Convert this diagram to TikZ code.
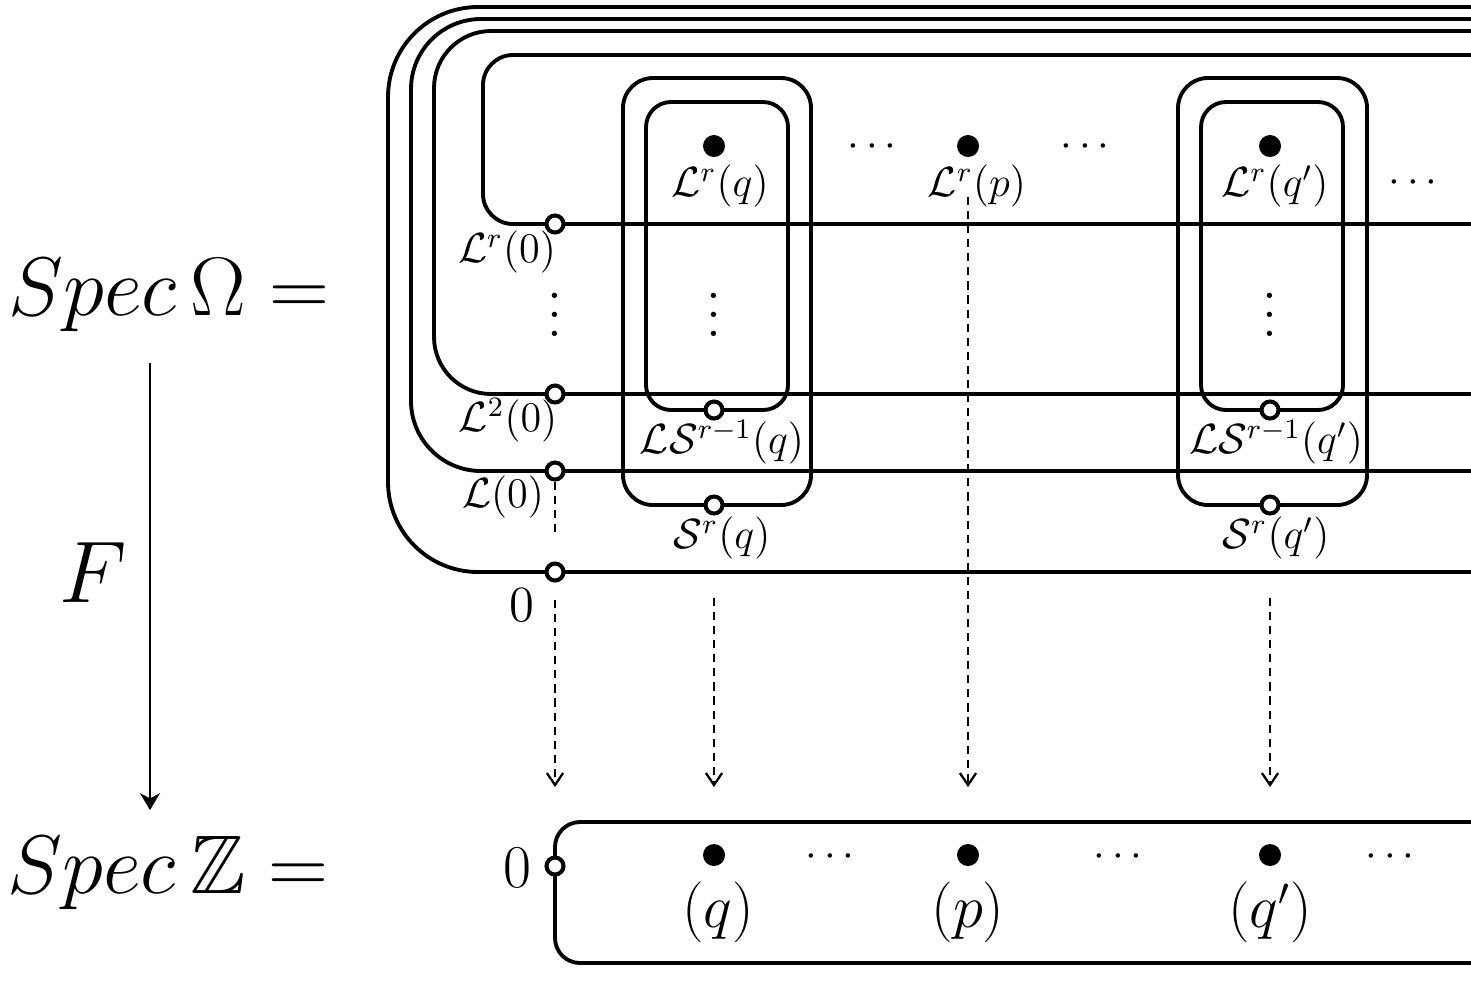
\documentclass[tikz,border=0pt]{standalone}
\usepackage{amssymb}
\usetikzlibrary{arrows.meta}
\begin{document}
\begin{tikzpicture}[x=0.01cm,y=-0.01cm,
  line/.style={line width=1.1pt},
  hole/.style={circle,draw,line width=1.15pt,fill=white,inner sep=0pt,minimum size=0.17cm},
  pt/.style={circle,fill=black,inner sep=0pt,minimum size=0.22cm},
  lab/.style={inner sep=0pt,font=\fontsize{11.5}{14}\selectfont},
  vd/.style={lab,scale=1.35},
  mid/.style={inner sep=0pt,font=\fontsize{16}{19}\selectfont},
  bigtxt/.style={inner sep=0pt,font=\huge,scale=1.14},
  guide/.style={line width=0.65pt,dash pattern=on 2.3pt off 1.7pt},
  proj/.style={guide,-{Straight Barb[length=3.4pt,width=4.6pt]}}]
\clip (0,0) rectangle (1471,981);
% nested open shapes
\draw[line,rounded corners=0.9cm] (1500,7) -- (388,7) -- (388,572) -- (1500,572);
\draw[line,rounded corners=0.7cm] (1500,19) -- (411,19) -- (411,471) -- (1500,471);
\draw[line,rounded corners=0.57cm] (1500,31) -- (434,31) -- (434,394) -- (1500,394);
\draw[line,rounded corners=0.3cm] (1500,55) -- (483,55) -- (483,224) -- (1500,224);
% column boxes
\draw[line,rounded corners=0.3cm] (623,78) rectangle (811,505);
\draw[line,rounded corners=0.25cm] (646,102) rectangle (788,410);
\draw[line,rounded corners=0.3cm] (1178,78) rectangle (1367,505);
\draw[line,rounded corners=0.25cm] (1201,102) rectangle (1343,410);
% bottom box
\draw[line,rounded corners=0.25cm] (1500,822) -- (555,822) -- (555,963) -- (1500,963);
% coordinates for connectors
\coordinate (e1) at (555,537);
\coordinate (a0) at (555,600);
\coordinate (t0) at (555,787);
\coordinate (aq) at (714,598);
\coordinate (tq) at (714,787);
\coordinate (ap) at (968,197);
\coordinate (tp) at (968,787);
\coordinate (aq2) at (1270,598);
\coordinate (tq2) at (1270,787);
\coordinate (f1) at (150,363);
\coordinate (f2) at (150,810);
% dashed connectors
\draw[proj] (a0) -- (t0);
\draw[proj] (aq) -- (tq);
\draw[proj] (ap) -- (tp);
\draw[proj] (aq2) -- (tq2);
% holes (open points)
\node[hole] (h0) at (555,572) {};
\node[hole] (h1) at (555,471) {};
\node[hole] (h2) at (555,394) {};
\node[hole] (hr) at (555,224) {};
\node[hole] (qls) at (714,410) {};
\node[hole] (qs) at (714,505) {};
\node[hole] (q2ls) at (1270,410) {};
\node[hole] (q2s) at (1270,505) {};
\node[hole] (z0) at (555,866) {};
\draw[guide] (h1.south) -- (e1);
% closed points
\node[pt] (lq) at (714,146) {};
\node[pt] (lp) at (968,146) {};
\node[pt] (lq2) at (1270,146) {};
\node[pt] (zq) at (714,855) {};
\node[pt] (zp) at (968,855) {};
\node[pt] (zq2) at (1270,855) {};
% labels
\node[lab] (lr0) at (507,252) {$\mathcal{L}^r(0)$};
\node[lab] (l20) at (508,420) {$\mathcal{L}^2(0)$};
\node[lab] (l10) at (503,497) {$\mathcal{L}(0)$};
\node[inner sep=0pt,font=\fontsize{15.5}{18}\selectfont] (l00) at (522,605) {$0$};
\node[lab] (tlq) at (720,186) {$\mathcal{L}^r(q)$};
\node[lab] (tlsq) at (722,442) {$\mathcal{L}\mathcal{S}^{r-1}(q)$};
\node[lab] (tsq) at (722,538) {$\mathcal{S}^r(q)$};
\node[lab] (tlp) at (977,186) {$\mathcal{L}^r(p)$};
\node[lab] (tlq2) at (1275,186) {$\mathcal{L}^r(q')$};
\node[lab] (tlsq2) at (1276,442) {$\mathcal{L}\mathcal{S}^{r-1}(q')$};
\node[lab] (tsq2) at (1276,538) {$\mathcal{S}^r(q')$};
\node[lab] (d1) at (872,147) {$\cdots$};
\node[lab] (d2) at (1085,147) {$\cdots$};
\node[lab] (d3) at (1413,183) {$\cdots$};
\node[vd] (v1) at (555,301) {$\vdots$};
\node[vd] (v2) at (714,301) {$\vdots$};
\node[vd] (v3) at (1270,301) {$\vdots$};
\node[lab] (d4) at (830,857) {$\cdots$};
\node[lab] (d5) at (1118,857) {$\cdots$};
\node[lab] (d6) at (1390,857) {$\cdots$};
\node[mid] (z0l) at (517,868) {$0$};
\node[mid] (zql) at (718,912) {$(q)$};
\node[mid] (zpl) at (968,912) {$(p)$};
\node[mid] (zq2l) at (1270,912) {$(q')$};
% left side
\node[bigtxt] (specO) at (169,295) {$Spec\,\Omega =$};
\node[bigtxt] (specZ) at (168,873) {$Spec\,\mathbb{Z} =$};
\node[inner sep=0pt,font=\fontsize{23.5}{28}\selectfont] (F) at (93,573) {$F$};
\draw[line width=0.75pt,-{Stealth[length=4.8pt,width=5.7pt,inset=1.5pt]}] (f1) -- (f2);
\end{tikzpicture}
\end{document}
